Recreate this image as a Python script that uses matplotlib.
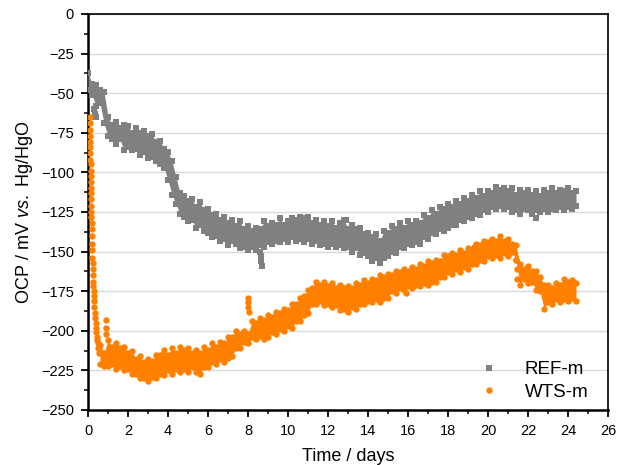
import numpy as np
import matplotlib
matplotlib.use("Agg")
import matplotlib.pyplot as plt
from matplotlib.lines import Line2D
from matplotlib.ticker import MultipleLocator

plt.rcParams['font.family'] = ['Liberation Sans', 'DejaVu Sans']
plt.rcParams['mathtext.fontset'] = 'custom'
plt.rcParams['mathtext.rm'] = 'Liberation Sans'
plt.rcParams['mathtext.it'] = 'Liberation Sans:italic'

# REF-m: upper / lower edge of the scatter band, every 0.2 day (0.0 .. 24.4)
ref_t = np.round(np.arange(0, 24.45, 0.2), 2)
ref_upper = [
    -37, -44, -45, -48, -49, -65, -70, -68, -72, -70,
    -71, -75, -72, -75, -74, -77, -76, -81, -80, -85,
    -87, -93, -103, -113, -115, -118, -117, -122, -119, -124,
    -123, -127, -126, -130, -128, -132, -130, -134, -131, -136,
    -134, -137, -135, -136, -131, -134, -132, -133, -129, -133,
    -131, -129, -130, -128, -129, -128, -132, -130, -133, -131,
    -134, -131, -135, -132, -130, -136, -133, -136, -135, -139,
    -138, -141, -139, -143, -137, -138, -134, -136, -132, -135,
    -131, -133, -131, -132, -127, -129, -124, -126, -122, -123,
    -120, -122, -118, -120, -116, -118, -114, -116, -112, -115,
    -112, -113, -109, -111, -110, -112, -110, -114, -111, -113,
    -111, -114, -112, -115, -111, -113, -110, -113, -111, -112,
    -110, -113, -112,
]
ref_lower = [
    -48, -51, -58, -56, -69, -77, -79, -82, -79, -86,
    -84, -86, -85, -89, -87, -91, -90, -93, -95, -97,
    -105, -114, -120, -126, -128, -131, -130, -135, -133, -137,
    -138, -141, -140, -143, -142, -146, -143, -145, -148, -147,
    -149, -147, -149, -146, -147, -144, -145, -143, -144, -142,
    -144, -141, -143, -142, -144, -142, -145, -143, -146, -145,
    -147, -145, -147, -146, -148, -147, -150, -148, -152, -151,
    -153, -156, -154, -157, -154, -153, -150, -151, -147, -148,
    -145, -146, -144, -145, -141, -142, -138, -139, -136, -137,
    -135, -133, -133, -130, -131, -128, -129, -126, -127, -124,
    -125, -122, -123, -121, -123, -122, -125, -124, -126, -123,
    -124, -126, -124, -125, -123, -125, -123, -124, -122, -124,
    -122, -123, -121,
]
# REF-m points lying off the band
ref_out_t = [0.32, 0.36, 0.40, 8.62, 8.64, 8.66, 8.68, 22.4, 12.9]
ref_out_ocp = [-60, -63, -65, -150, -153, -156, -159, -129, -130]

# WTS-m: single points of the fast drop during the first hours
wts_early_t = [0.08, 0.09, 0.10, 0.10, 0.11, 0.11, 0.12, 0.12, 0.13, 0.13,
               0.14, 0.14, 0.15, 0.15, 0.16, 0.16, 0.17, 0.17, 0.18, 0.18,
               0.19, 0.20, 0.21, 0.22, 0.23, 0.24, 0.25, 0.26, 0.27, 0.28,
               0.29, 0.30, 0.32, 0.34, 0.36, 0.38, 0.40, 0.42, 0.44, 0.46,
               0.48, 0.50, 0.53, 0.56, 0.88, 0.90, 0.92]
wts_early_ocp = [-65, -69, -73, -77, -81, -84, -88, -92, -95, -99,
                 -102, -106, -110, -113, -117, -121, -125, -128, -132, -136,
                 -140, -145, -149, -154, -157, -161, -165, -169, -172, -175,
                 -178, -181, -185, -189, -192, -195, -198, -201, -204, -206,
                 -208, -211, -210, -214, -193, -198, -202]

# WTS-m: upper / lower edge of the scatter band, every 0.2 day (0.6 .. 24.4)
wts_t = np.round(np.arange(0.6, 24.45, 0.2), 2)
wts_upper = [
    -209, -214,
    -206, -210, -208, -211, -210, -214, -213, -218, -216, -220,
    -218, -219, -215, -215, -212, -215, -211, -214, -210, -212,
    -211, -214, -212, -214, -210, -212, -208, -210, -207, -208,
    -204, -204, -200, -202, -200, -202, -194, -195, -192, -193,
    -190, -191, -188, -189, -186, -187, -183, -183, -179, -178,
    -174, -173, -169, -171, -169, -172, -170, -173, -171, -173,
    -172, -173, -170, -171, -168, -170, -167, -168, -165, -166,
    -164, -165, -162, -163, -161, -162, -160, -161, -158, -159,
    -156, -157, -155, -156, -152, -153, -151, -152, -149, -151,
    -148, -149, -145, -146, -143, -144, -142, -143, -140, -143,
    -142, -145, -146, -158, -161, -159, -162, -162, -166, -171,
    -171, -173, -170, -171, -167, -169, -168, -170,
]
wts_lower = [
    -221, -222,
    -222, -221, -224, -222, -225, -224, -227, -227, -230, -230,
    -232, -229, -230, -227, -228, -225, -227, -224, -226, -224,
    -226, -223, -226, -227, -223, -223, -220, -221, -218, -220,
    -217, -216, -211, -211, -207, -208, -204, -205, -203, -205,
    -204, -201, -202, -199, -200, -197, -198, -194, -194, -190,
    -189, -183, -183, -181, -184, -183, -185, -184, -187, -186,
    -188, -185, -186, -183, -183, -181, -182, -180, -182, -179,
    -179, -175, -176, -173, -174, -172, -173, -171, -172, -170,
    -171, -169, -169, -166, -166, -163, -164, -161, -163, -160,
    -161, -158, -158, -155, -156, -153, -154, -152, -154, -151,
    -153, -150, -155, -171, -167, -170, -169, -174, -175, -186,
    -182, -183, -180, -182, -180, -181, -179, -181,
]
# WTS-m points lying off the band
wts_out_t = [7.98, 8.0, 8.02, 8.04, 19.3, 15.9, 21.42, 21.44, 21.46]
wts_out_ocp = [-179, -182, -185, -188, -147, -176, -155, -161, -167]

grey = '#808080'
orange = '#ff8000'

fig = plt.figure(figsize=(6.3, 4.65), dpi=100)
ax = fig.add_axes([0.1397, 0.1183, 0.8254, 0.8516])

def draw_band(t, upper, lower, out_t, out_v, color, marker, ms, z):
    ax.fill_between(t, lower, upper, color=color, linewidth=0, zorder=z)
    for vals in (upper, lower):
        ax.plot(t, vals, linestyle='none', marker=marker, markersize=ms,
                color=color, markeredgewidth=0, zorder=z)
    ax.plot(out_t, out_v, linestyle='none', marker=marker, markersize=ms,
            color=color, markeredgewidth=0, zorder=z)

draw_band(ref_t, ref_upper, ref_lower, ref_out_t, ref_out_ocp, grey, 's', 4.0, 3)
draw_band(wts_t, wts_upper, wts_lower, wts_out_t, wts_out_ocp, orange, 'o', 4.6, 4)
ax.plot(wts_early_t, wts_early_ocp, linestyle='none', marker='o', markersize=4.6,
        color=orange, markeredgewidth=0, zorder=4)

ax.set_xlim(0, 26)
ax.set_ylim(-250, 0)
ax.xaxis.set_major_locator(MultipleLocator(2))
ax.xaxis.set_minor_locator(MultipleLocator(1))
ax.yaxis.set_major_locator(MultipleLocator(25))
ax.yaxis.set_minor_locator(MultipleLocator(12.5))
ax.grid(axis='y', which='major', color='#d9d9d9', linewidth=1.0, zorder=0)
ax.set_axisbelow(True)

for side in ['left', 'bottom']:
    ax.spines[side].set_linewidth(1.8)
for side in ['top', 'right']:
    ax.spines[side].set_linewidth(1.2)

ax.tick_params(which='major', direction='out', length=5, width=1.3, labelsize=10.5,
               colors='black', pad=5)
ax.tick_params(which='minor', direction='out', length=3, width=1.1)

ax.set_xlabel('Time / days', fontsize=13, labelpad=7)
ax.set_ylabel(r'OCP / mV $\it{vs.}$ Hg/HgO', fontsize=13, labelpad=4)

handles = [Line2D([], [], linestyle='none', marker='s', markersize=4.0, color=grey,
                  markeredgewidth=0),
           Line2D([], [], linestyle='none', marker='o', markersize=4.6, color=orange,
                  markeredgewidth=0)]
ax.legend(handles, ['REF-m', 'WTS-m'], loc='lower right', frameon=False, fontsize=13.5,
          handletextpad=0.9, labelspacing=0.3, bbox_to_anchor=(0.995, -0.02))

fig.savefig('out.png', dpi=100)
